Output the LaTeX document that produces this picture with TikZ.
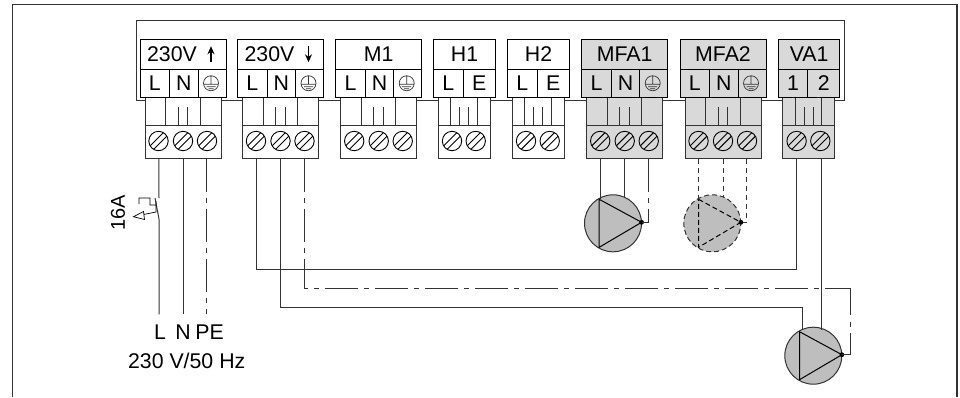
\documentclass[tikz,border=0pt]{standalone}
\usepackage{fontspec}
\setmainfont{Liberation Sans}
\usetikzlibrary{arrows.meta}
\definecolor{boxgray}{HTML}{D9D9D9}
\definecolor{pumpgray}{HTML}{BEBEBE}
\definecolor{wiregray}{HTML}{333333}
\tikzset{
 blockbox/.style={draw=black,anchor=north west,inner sep=0pt,outer sep=0pt,line width=1pt},
 plugline/.style={draw=wiregray,line width=1pt},
 wireline/.style={draw=wiregray,line width=1pt},
 dashdotline/.style={wireline,dash pattern=on 33pt off 6pt on 5pt off 6pt},
 shortdash/.style={wireline,dash pattern=on 5pt off 4pt},
 screwhead/.style={circle,draw=black,line width=.9pt,minimum size=19.4pt,inner sep=0pt,
  path picture={\draw[line width=.9pt,draw=black]
   ([shift={(-11.8,8.2)}]path picture bounding box.center)--([shift={(8.2,-11.8)}]path picture bounding box.center)
   ([shift={(-8.2,11.8)}]path picture bounding box.center)--([shift={(11.8,-8.2)}]path picture bounding box.center);}},
 pumpbody/.style={circle,draw=wiregray,fill=pumpgray,line width=1pt,minimum size=57pt,inner sep=0pt},
 wirelabel/.style={minimum height=35pt,inner sep=0pt}
}
% terminal block with L N earth
\newcommand{\threeblock}[4]{
\draw[plugline,fill=#4] (#2+5,97) rectangle (#2+81,158.5);
\draw[plugline] (#2+5,125.5)--(#2+81,125.5) (#2+25.5,97)--(#2+25.5,125.5) (#2+60,97)--(#2+60,125.5)
 (#2+38,107)--(#2+38,125.5) (#2+47.7,107)--(#2+47.7,125.5);
\node[blockbox,fill=#4,minimum width=86pt,minimum height=30.5pt] (#1t) at (#2,39) {#3};
\node[blockbox,fill=#4,minimum width=29.7pt,minimum height=27.5pt] (#1l) at (#2,69.5) {L};
\node[blockbox,fill=#4,minimum width=28.3pt,minimum height=27.5pt] (#1n) at (#2+29.7,69.5) {N};
\node[blockbox,fill=#4,minimum width=28pt,minimum height=27.5pt] (#1e) at (#2+58,69.5) {};
\draw[line width=.7pt,draw=wiregray] ([shift={(-1,0)}]#1e.center) circle[radius=7.5pt]
 ([shift={(-1,-7.5)}]#1e.center)--([shift={(-1,1)}]#1e.center)
 ([shift={(-8,1)}]#1e.center)--([shift={(6,1)}]#1e.center)
 ([shift={(-5.5,3.5)}]#1e.center)--([shift={(3.5,3.5)}]#1e.center)
 ([shift={(-3.5,5.5)}]#1e.center)--([shift={(1.5,5.5)}]#1e.center);
\node[screwhead] (#1a) at (#2+18.5,141) {};
\node[screwhead] (#1b) at (#2+43,141) {};
\node[screwhead] (#1c) at (#2+67,141) {};
\coordinate (#1wa) at (#2+18.8,158.5);
\coordinate (#1wb) at (#2+43,158.5);
\coordinate (#1wc) at (#2+66.8,158.5);
}
% terminal block with two poles
\newcommand{\twoblock}[6]{
\draw[plugline,fill=#4] (#2+4.6,97) rectangle (#2+56.6,158);
\draw[plugline] (#2+4.6,125)--(#2+56.6,125) (#2+17.2,97)--(#2+17.2,125) (#2+43.4,97)--(#2+43.4,125)
 (#2+25.8,107)--(#2+25.8,125) (#2+34.8,107)--(#2+34.8,125);
\node[blockbox,fill=#4,minimum width=61.6pt,minimum height=30.5pt] (#1t) at (#2,39) {#3};
\node[blockbox,fill=#4,minimum width=29.3pt,minimum height=27.5pt] (#1l) at (#2,69.5) {#5};
\node[blockbox,fill=#4,minimum width=32.3pt,minimum height=27.5pt] (#1r) at (#2+29.3,69.5) {#6};
\node[screwhead] (#1a) at (#2+18.3,141) {};
\node[screwhead] (#1b) at (#2+42,141) {};
\coordinate (#1wa) at (#2+18.4,158);
\coordinate (#1wb) at (#2+42.7,158);
}
% pump with triangle, centre at #2,#3
\newcommand{\pumpsym}[4]{
\node[pumpbody,#4] (#1) at (#2,#3) {};
\coordinate (#1u) at (#2-13.8,#3-24);
\coordinate (#1d) at (#2-13.8,#3+24);
\coordinate (#1o) at (#2+28.6,#3-1);
\coordinate (#1s) at (#2,#3-26);
\draw[line width=1pt,#4] (#1u)--(#1o)--(#1d)--cycle;
\fill (#1o) circle[radius=2.4pt];
}
\begin{document}
\begin{tikzpicture}[x=1pt,y=-1pt,font=\fontsize{21.3}{24}\selectfont]
\useasboundingbox (0,0) rectangle (960,397);
\draw[line width=1.3pt,draw=wiregray] (12.3,397)--(12.3,4.5)--(957,4.5)--(957,397);
\draw[line width=1pt,draw=wiregray] (136.5,20) rectangle (844,100);

\threeblock{up}{140}{230V\rule{22pt}{0pt}}{white}
\threeblock{dn}{237.5}{230V\rule{22pt}{0pt}}{white}
\threeblock{mo}{335.7}{M1}{white}
\twoblock{ho}{433.7}{H1}{white}{L}{E}
\twoblock{ht}{507.7}{H2}{white}{L}{E}
\threeblock{mfo}{581.7}{MFA1}{boxgray}
\threeblock{mft}{680}{MFA2}{boxgray}
\twoblock{va}{778.3}{VA1}{boxgray}{1}{2}

\draw[-{Stealth[length=8pt,width=7pt]},line width=1.5pt] ([shift={(28,8)}]upt.center)--([shift={(28,-8)}]upt.center);
\draw[-{Stealth[length=8pt,width=7pt]},line width=1.5pt] ([shift={(28,-8)}]dnt.center)--([shift={(28,8)}]dnt.center);

% mains feed
\node[wirelabel] (supl) at (160,332) {L};
\node[wirelabel] (supn) at (183,332) {N};
\node[wirelabel] (suppe) at (209.7,332) {PE};
\node (supv) at (186.7,361) {230 V/50 Hz};
\node[rotate=90,font=\fontsize{20}{24}\selectfont] (fuse) at (118,213) {16A};
\coordinate (swt) at (159,198);
\coordinate (swb) at (159,219);
\draw[wireline] (upwa)--(swt) (swb)--(swb |- supl.north) (swb)--(155,198);
\draw[wireline] (upwb)--(upwb |- supn.north);
\draw[dashdotline] (upwc)--(upwc |- suppe.north);
% breaker
\draw[line width=.7pt] (156,201)--(156,212)--(143.5,214.5)
 (133.5,216.7)--(143.5,211.5)--(144.5,219.5)--cycle
 (139,204)--(139,198)--(150,198)--(150,205)--(156,205);

% pumps and their wires
\pumpsym{pumpa}{613}{223.3}{}
\pumpsym{pumpb}{712.3}{223.3}{dash pattern=on 5pt off 3pt}
\pumpsym{pumpc}{813.3}{355.7}{}
\draw[wireline] (mfowa)--(mfowa |- pumpau) (mfowb)--(mfowb |- pumpas);
\draw[dashdotline] (mfowc) |- (pumpao);
\draw[shortdash] (mftwa)--(mftwa |- pumpbu) (mftwb)--(mftwb |- pumpbs);
\draw[shortdash] (mftwc) |- (pumpbo);
\coordinate (retl) at (796.7,269.3);
\coordinate (retn) at (802,307);
\coordinate (retpe) at (850.7,288);
\draw[wireline] (dnwa) |- (retl)--(vawa);
\draw[wireline] (dnwb) |- (retn)--(retn |- pumpcs);
\draw[wireline] (vawb)--(vawb |- pumpcs);
\draw[dashdotline] (dnwc) |- (retpe);
\draw[wireline,dash pattern=on 27pt off 6.5pt on 5pt off 6.5pt on 40pt off 1pt] (retpe)--(retpe |- pumpco);
\draw[wireline] (retpe |- pumpco)--(pumpco);
\end{tikzpicture}
\end{document}
